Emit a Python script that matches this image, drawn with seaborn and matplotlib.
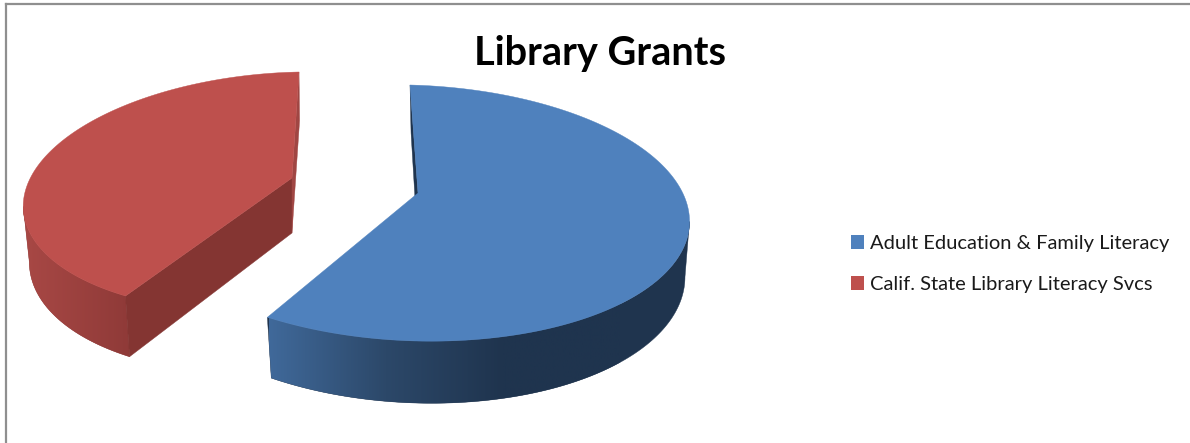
import numpy as np
import matplotlib
matplotlib.use("Agg")
import matplotlib.pyplot as plt
import seaborn as sns
from matplotlib.colors import LinearSegmentedColormap
from matplotlib.patches import Patch, Polygon

# grant shares
categories = ["Adult Education & Family Literacy", "Calif. State Library Literacy Svcs"]
shares = [59, 41]
title = "Library Grants"

top_colors = ["#4F81BD", "#BE504D"]
side_ramps = [["#40699A", "#2C4869", "#1F344E", "#1F344E"], ["#A84845", "#8F3A38"]]
side_ramp_x = [(269, 620), (24, 131)]
start_face_colors = ["#1F344E", "#843532"]
end_face_colors = [None, "#A04643"]  # blue's far cut face is hidden

# how each exploded slice sits on the page (pixels)
slices = [
    dict(cx=413, cy=213, rx=276.5, ry=128, skew_x=-3, skew_y=7, apex=(418, 193)),
    dict(cx=279, cy=192, rx=255, ry=120, skew_x=20, skew_y=-5, apex=(292, 178)),
]
DEPTH = 55
SHRINK_X = 0.98
GROW_Y = 1.055

sns.set_theme(style="white")
plt.rcParams["font.family"] = ["Lato", "DejaVu Sans"]

fig = plt.figure(figsize=(11.9, 4.43), dpi=100)
ax = fig.add_axes([6 / 1190, 0, 1 - 6 / 1190, (443 - 4) / 443])
ax.set_xticks([])
ax.set_yticks([])
sns.despine(ax=ax, top=False, left=False, right=True, bottom=True)
for side in ["top", "left"]:
    ax.spines[side].set_color("#8F8F8F")
    ax.spines[side].set_linewidth(1.6)


def rim(s, theta, lower=False):
    # theta runs clockwise from 12 o'clock
    u, v = np.sin(theta), np.cos(theta)
    x = s["rx"] * u + s["skew_x"] * v
    y = -s["ry"] * v + s["skew_y"] * u
    if lower:
        return s["cx"] + 1 + SHRINK_X * x, s["cy"] + DEPTH + GROW_Y * y
    return s["cx"] + x, s["cy"] + y


edges = np.cumsum([0] + shares) / sum(shares) * 2 * np.pi

for i, s in enumerate(slices):
    theta = np.linspace(edges[i], edges[i + 1], 240)
    top_x, top_y = rim(s, theta)
    apex = s["apex"]
    apex_low = (apex[0], apex[1] + DEPTH)

    # only the part of the rim facing the viewer gets a wall
    if i == 0:
        seen = theta[np.argmax(top_x):]
    else:
        seen = theta[: np.argmin(top_x) + 1]
    wall_top = rim(s, seen)
    wall_low = rim(s, seen, lower=True)
    wall_xy = np.c_[
        np.r_[wall_top[0], wall_low[0][::-1]],
        np.r_[wall_top[1], wall_low[1][::-1]],
    ]

    ax.fill(wall_xy[:, 0], wall_xy[:, 1], color=side_ramps[i][-1], lw=0.3, zorder=1)
    wall = Polygon(wall_xy, closed=True, transform=ax.transData, facecolor="none", edgecolor="none")
    ax.add_patch(wall)
    cmap = LinearSegmentedColormap.from_list("wall", side_ramps[i])
    x0, x1 = side_ramp_x[i]
    shade = ax.imshow(
        np.linspace(0, 1, 256)[None, :],
        cmap=cmap,
        extent=(x0, x1, 420, 60),
        aspect="auto",
        zorder=2,
    )
    shade.set_clip_path(wall)

    # the cut faces
    for t, color in [(edges[i], start_face_colors[i]), (edges[i + 1], end_face_colors[i])]:
        if color is None:
            continue
        px, py = rim(s, t)
        qx, qy = rim(s, t, lower=True)
        ax.fill(
            [px, qx, apex_low[0], apex[0]],
            [py, qy, apex_low[1], apex[1]],
            color=color,
            lw=0.3,
            zorder=3,
        )

    ax.fill(
        np.r_[apex[0], top_x],
        np.r_[apex[1], top_y],
        color=top_colors[i],
        lw=0.3,
        zorder=4,
    )

ax.set_xlim(6, 1190)
ax.set_ylim(443, 4)
ax.set_aspect("auto")

ax.text(600, 53, title, ha="center", va="center", fontsize=28.6, fontweight="bold", color="black")

handles = [Patch(facecolor=c, edgecolor="none") for c in top_colors]
ax.legend(
    handles,
    categories,
    loc="center left",
    bbox_to_anchor=(851, 264),
    bbox_transform=ax.transData,
    frameon=False,
    fontsize=14.5,
    labelcolor="#1A1A1A",
    handlelength=0.65,
    handleheight=0.65,
    handletextpad=0.28,
    labelspacing=1.2,
    borderpad=0,
    borderaxespad=0,
)

fig.savefig("out.png", dpi=100)
